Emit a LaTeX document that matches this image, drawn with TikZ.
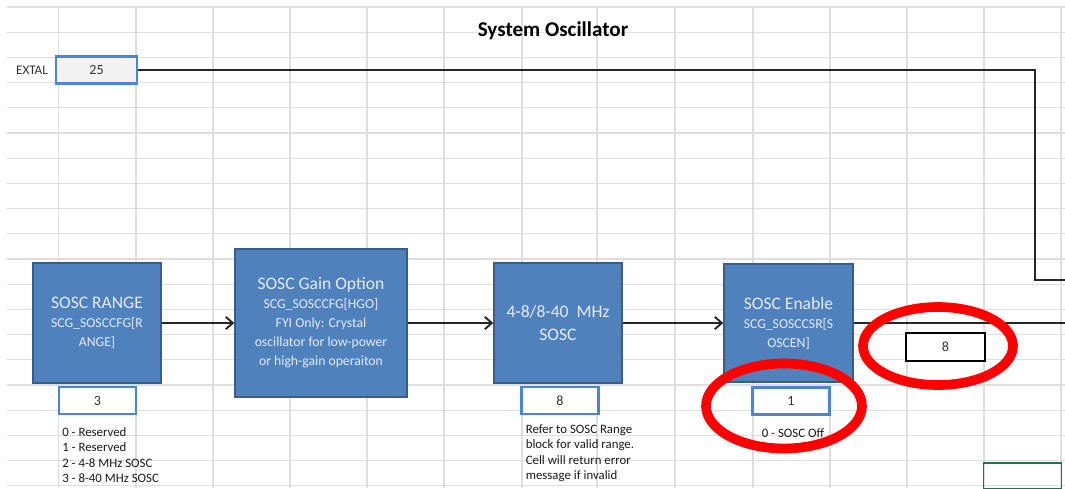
\documentclass[tikz,border=0pt]{standalone}
\usepackage{fontspec}
\setmainfont{Carlito}
\usepackage{tikz}
\usetikzlibrary{arrows.meta, positioning, shapes.geometric}
\definecolor{cellgray}{RGB}{222, 222, 222}
\definecolor{blockblue}{RGB}{79, 129, 189}
\definecolor{blockedge}{RGB}{56, 93, 138}
\definecolor{blocktext}{RGB}{228, 235, 246}
\definecolor{valueblue}{RGB}{74, 134, 216}
\definecolor{inputgray}{RGB}{242, 242, 242}
\definecolor{markred}{RGB}{255, 0, 0}
\definecolor{cellgreen}{RGB}{33, 115, 70}

\begin{document}
\begin{tikzpicture}[
    x=0.02cm, y=-0.02cm,
    gridline/.style={draw=cellgray, line width=0.7pt},
    block/.style={draw=blockedge, fill=blockblue, line width=0.8pt,
                  text=blocktext, align=center, inner sep=2pt,
                  font=\fontsize{7.8}{10.8}\selectfont},
    blocktitle/.style={font=\fontsize{10}{13}\selectfont},
    valuebox/.style={draw=valueblue, fill=white, line width=1.2pt,
                     minimum width=1.54cm, minimum height=0.54cm,
                     font=\fontsize{8}{9}\selectfont, text=black!80},
    note/.style={anchor=north west, align=left, inner sep=0pt, text=black!90,
                 font=\fontsize{7.3}{8.8}\selectfont},
    arrow/.style={-{Straight Barb[length=4pt, width=7pt]}, line width=1.1pt, color=black!85},
    wire/.style={line width=1.3pt, color=black!85},
    redring/.style={ellipse, draw=markred, line width=5.5pt, inner sep=0pt},
]
    \useasboundingbox (0,0) rectangle (1065,488);

    % Sheet grid
    \foreach \gx in {58.5,136,213,290,367,444,522,597,675,753,830,907,984,1061}
        \draw[gridline] (\gx,7) -- (\gx,488);
    \foreach \i [evaluate=\i as \gy using 7+25.2*\i] in {0,...,19}
        \draw[gridline] (7,\gy) -- (1065,\gy);

    % Title
    \node[font=\fontsize{12}{14}\selectfont\bfseries] (title) at (553,31) {System Oscillator};

    % Input clock
    \node[font=\fontsize{7.5}{9}\selectfont, text=black!80] (extallbl) at (32,70) {EXTAL};
    \node[valuebox, fill=inputgray, minimum width=1.62cm] (extal) at (96.5,70) {25};

    % Main chain
    \node[block, minimum width=2.56cm, minimum height=2.4cm] (range) at (97,323)
        {{\fontsize{10}{13}\selectfont SOSC RANGE}\\SCG\_SOSCCFG[R\\ANGE]};
    \node[block, minimum width=3.44cm, minimum height=2.96cm] (gain) at (321,323)
        {{\fontsize{10}{13}\selectfont SOSC Gain Option}\\SCG\_SOSCCFG[HGO]\\FYI Only: Crystal\\oscillator for low-power\\or high-gain operaiton};
    \node[block, blocktitle, minimum width=2.56cm, minimum height=2.4cm] (sosc) at (558,323)
        {4-8/8-40\ \ MHz\\SOSC};
    \node[block, minimum width=2.58cm, minimum height=2.36cm] (enable) at (788.5,323)
        {{\fontsize{10}{13}\selectfont SOSC Enable}\\SCG\_SOSCCSR[S\\OSCEN]};

    % Setting cells
    \node[valuebox] (rangeval) at (97.5,400.5) {3};
    \node[valuebox] (soscval) at (560,400.5) {8};
    \node[valuebox] (enableval) at (791,401) {1};
    \node[valuebox, draw=black, line width=1.4pt, minimum width=1.58cm, minimum height=0.56cm] (outval) at (945.5,347) {8};
    \node[draw=cellgreen, line width=1pt, minimum width=1.56cm, minimum height=0.52cm] (selcell) at (1022.5,476) {};

    % Notes
    \node[note, below right=0.24cm and 0.08cm of rangeval.south west] (rangenote)
        {0 - Reserved\\1 - Reserved\\2 - 4-8 MHz SOSC\\3 - 8-40 MHz SOSC};
    \node[note, below right=0.18cm and 0.1cm of soscval.south west] (soscnote)
        {Refer to SOSC Range\\block for valid range.\\Cell will return error\\message if invalid};
    \node[note, below right=0.26cm and 0.2cm of enableval.south west] (enablenote)
        {0 - SOSC Off};

    % Connections
    \coordinate (turn) at (1035,70);
    \coordinate (outtop) at (1065,280);
    \coordinate (outmid) at (1065,323);
    \draw[wire] (extal) -- (turn) |- (outtop);
    \draw[arrow] (range) -- (gain);
    \draw[arrow] (gain) -- (sosc);
    \draw[arrow] (sosc) -- (enable);
    \draw[wire] (enable) -- (outmid);

    % Highlight rings
    \node[redring, minimum width=3.12cm, minimum height=1.7cm] (ring1) at (784,406) {};
    \node[redring, minimum width=3.0cm, minimum height=1.56cm] (ring2) at (938,346) {};
\end{tikzpicture}
\end{document}
